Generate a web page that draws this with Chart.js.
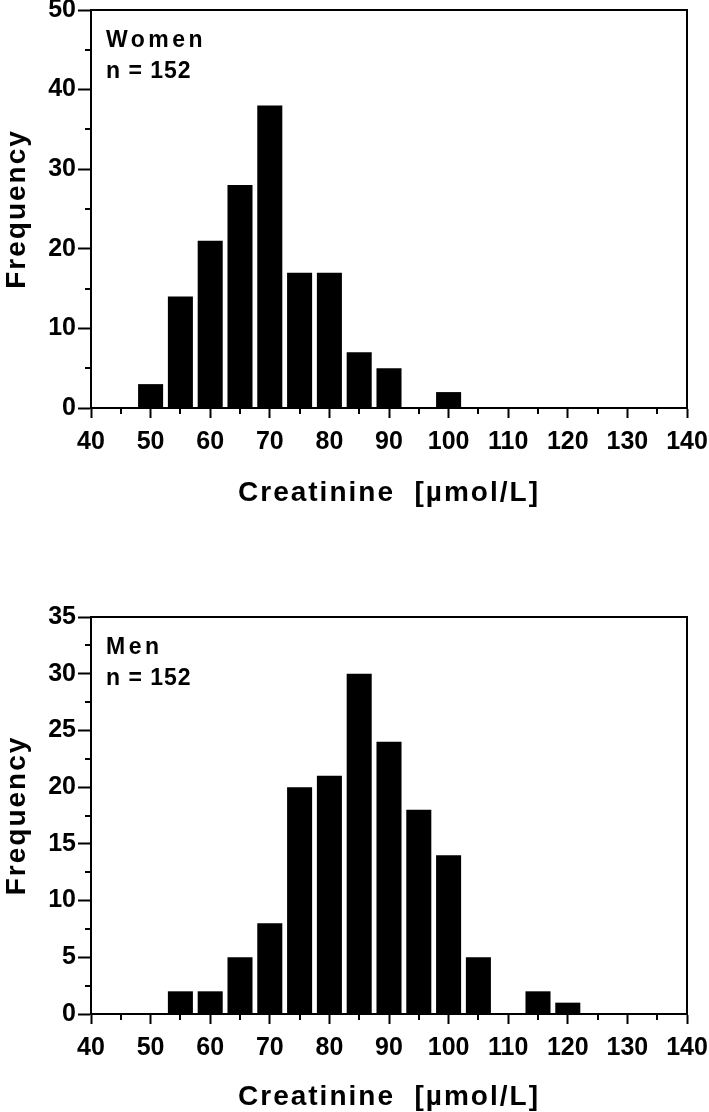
<!DOCTYPE html>
<html>
<head>
<meta charset="utf-8">
<title>Creatinine distribution</title>
<script src="https://cdn.jsdelivr.net/npm/chart.js@4.4.1/dist/chart.umd.min.js"></script>
<style>
  body { margin: 0; background: #fff; }
  #wrap { position: relative; width: 709px; height: 1112px; }
  .box { position: absolute; left: 0; width: 709px; height: 556px; }
</style>
</head>
<body>
<div id="wrap">
  <div class="box" style="top:0"><canvas id="womenChart"></canvas></div>
  <div class="box" style="top:556px"><canvas id="menChart"></canvas></div>
</div>
<script>
// bin centres (µmol/L) and counts
const womenBins = [50, 55, 60, 65, 70, 75, 80, 85, 90, 95, 100];
const womenCounts = [3, 14, 21, 28, 38, 17, 17, 7, 5, 0, 2];
const menBins = [55, 60, 65, 70, 75, 80, 85, 90, 95, 100, 105, 110, 115, 120];
const menCounts = [2, 2, 5, 8, 20, 21, 30, 24, 18, 14, 5, 0, 2, 1];

const xMin = 40, xMax = 140, xStep = 10;
const womenYMax = 50, womenYStep = 10;
const menYMax = 35, menYStep = 5;

const xTitle = "Creatinine  [µmol/L]";
const yTitle = "Frequency";

const FONT = "'Liberation Sans', Arial, sans-serif";
Chart.defaults.font.family = FONT;
Chart.defaults.color = "#000";

// frame on top/right, short minor ticks, axis titles and group label
const framePlugin = {
  id: "frame",
  afterDraw(chart, args, opts) {
    const { ctx, chartArea: a, scales } = chart;
    const x = scales.x, y = scales.y;
    ctx.save();
    ctx.strokeStyle = "#000";
    ctx.lineWidth = 2;
    ctx.beginPath();
    ctx.moveTo(a.left - 1, a.top);
    ctx.lineTo(a.right, a.top);
    ctx.lineTo(a.right, a.bottom);
    for (let v = x.min + xStep / 2; v < x.max; v += xStep) {
      const px = Math.round(x.getPixelForValue(v));
      ctx.moveTo(px, a.bottom);
      ctx.lineTo(px, a.bottom + 6);
    }
    for (let v = opts.yStep / 2; v < y.max; v += opts.yStep) {
      const py = Math.round(y.getPixelForValue(v));
      ctx.moveTo(a.left, py);
      ctx.lineTo(a.left - 6, py);
    }
    ctx.stroke();

    ctx.fillStyle = "#000";
    // axis titles
    ctx.font = "bold 28px " + FONT;
    ctx.letterSpacing = "2px";
    ctx.textAlign = "center";
    ctx.textBaseline = "middle";
    ctx.fillText(xTitle, (a.left + a.right) / 2, a.bottom + opts.xTitleGap);
    ctx.save();
    ctx.translate(17, (a.top + a.bottom) / 2);
    ctx.rotate(-Math.PI / 2);
    ctx.fillText(yTitle, 0, 0);
    ctx.restore();

    // group label
    ctx.textAlign = "left";
    ctx.textBaseline = "alphabetic";
    ctx.font = "bold 23px " + FONT;
    ctx.letterSpacing = "3.5px";
    ctx.fillText(opts.group, a.left + 15, a.top + 37);
    ctx.letterSpacing = "1px";
    ctx.fillText(opts.count, a.left + 15, a.top + 68);
    ctx.restore();
  }
};

function makeChart(id, bins, counts, yMax, yStep, group, padTop, padBottom, xHeight, xTitleGap) {
  return new Chart(document.getElementById(id), {
    type: "bar",
    data: {
      datasets: [{
        data: bins.map((b, i) => ({ x: b, y: counts[i] })),
        backgroundColor: "#000",
        borderWidth: 0,
        barPercentage: 0.84,
        categoryPercentage: 1
      }]
    },
    options: {
      responsive: true,
      maintainAspectRatio: false,
      animation: false,
      layout: { padding: { top: padTop, right: 22, bottom: padBottom, left: 0 } },
      plugins: {
        legend: { display: false },
        tooltip: { enabled: false },
        frame: { group: group, count: "n = 152", yStep: yStep, xTitleGap: xTitleGap }
      },
      scales: {
        x: {
          type: "linear",
          min: xMin,
          max: xMax,
          offset: false,
          ticks: { stepSize: xStep, font: { size: 25, weight: "bold" }, color: "#000", padding: 9, maxRotation: 0 },
          grid: { drawOnChartArea: false, offset: false, tickLength: 10, tickWidth: 2, tickColor: "#000" },
          border: { color: "#000", width: 2 },
          afterFit(s) {
            s.height = xHeight;
            s.paddingLeft = 0;
            s.paddingRight = 0;
          }
        },
        y: {
          min: 0,
          max: yMax,
          ticks: { stepSize: yStep, font: { size: 25, weight: "bold" }, color: "#000", padding: 2 },
          grid: { drawOnChartArea: false, tickLength: 13, tickWidth: 2, tickColor: "#000" },
          border: { color: "#000", width: 2 },
          afterFit(s) {
            s.width = 91;
            s.paddingTop = 0;
            s.paddingBottom = 0;
          }
        }
      }
    },
    plugins: [framePlugin]
  });
}

makeChart("womenChart", womenBins, womenCounts, womenYMax, womenYStep, "Women", 10, 47, 101, 85);
makeChart("menChart", menBins, menCounts, menYMax, menYStep, "Men", 61, 0, 98, 83);
</script>
</body>
</html>
